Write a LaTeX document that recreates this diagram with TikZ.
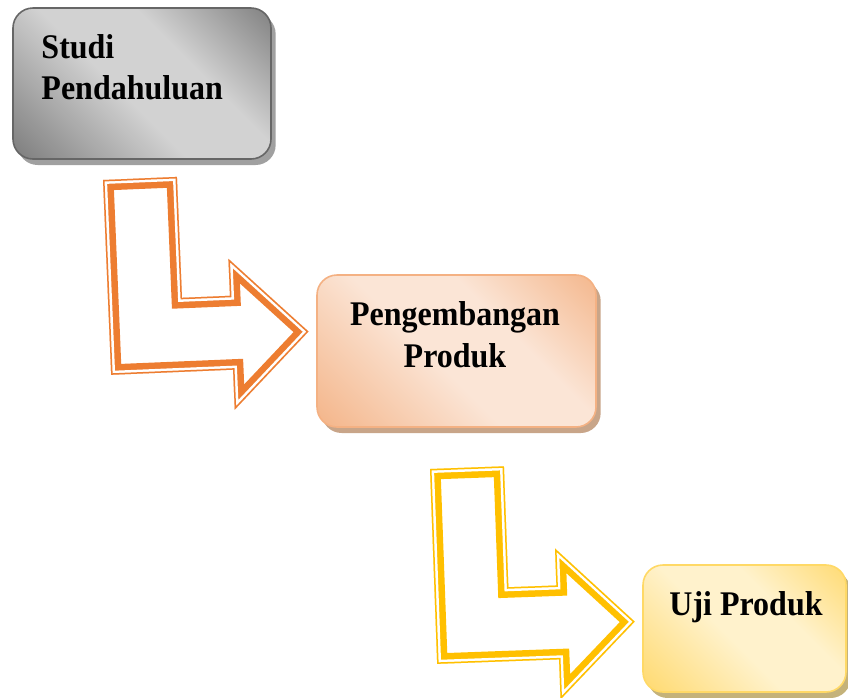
\documentclass[tikz,border=0pt]{standalone}
\usepackage{graphicx}
\usepackage{fontspec}
\setmainfont{Liberation Serif}
\usetikzlibrary{shadows}

\definecolor{grayDark}{HTML}{6A6A6A}
\definecolor{grayLight}{HTML}{D2D2D2}
\definecolor{grayLine}{HTML}{666666}
\definecolor{grayShadow}{HTML}{A0A0A0}
\definecolor{orangeDark}{HTML}{F2AA78}
\definecolor{orangeLight}{HTML}{FBE5D6}
\definecolor{orangeLine}{HTML}{F4B183}
\definecolor{orangeShadow}{HTML}{C8A589}
\definecolor{yellowDark}{HTML}{FFD45A}
\definecolor{yellowLight}{HTML}{FFF2CC}
\definecolor{yellowLine}{HTML}{FFD966}
\definecolor{yellowShadow}{HTML}{C4B27A}
\definecolor{arrowOrange}{HTML}{ED7D31}
\definecolor{arrowYellow}{HTML}{FFC000}

% diagonal shadings, dark corners and a broad light band
\pgfdeclareverticalshading{grayShade}{100bp}{color(0bp)=(grayDark); color(8bp)=(grayDark);
  color(45bp)=(grayLight); color(62bp)=(grayLight); color(92bp)=(grayDark); color(100bp)=(grayDark)}
\pgfdeclareverticalshading{orangeShade}{100bp}{color(0bp)=(orangeDark); color(8bp)=(orangeDark);
  color(45bp)=(orangeLight); color(62bp)=(orangeLight); color(92bp)=(orangeDark); color(100bp)=(orangeDark)}
\pgfdeclareverticalshading{yellowShade}{100bp}{color(0bp)=(yellowDark); color(8bp)=(yellowDark);
  color(45bp)=(yellowLight); color(62bp)=(yellowLight); color(92bp)=(yellowDark); color(100bp)=(yellowDark)}

% slightly taller lettering
\newcommand{\tall}[1]{\scalebox{1}[1.08]{#1}}

\tikzset{
  box/.style={rounded corners=15pt, inner sep=0pt, line width=1.2pt},
  stage/.style n args={3}{box, draw=#2, shade, shading=#1, shading angle=-45,
    drop shadow={shadow xshift=3.5pt, shadow yshift=-4.5pt, fill=#3, opacity=1}},
  lbl/.style={inner sep=0pt}
}

% bent arrow: colour, x, y, angle
\newcommand{\bentarrow}[4]{%
\begin{scope}[shift={(#2,#3)}, rotate=#4]
  \clip (0,0) -- (74,0) -- (74,-121) -- (122,-121) -- (122,-84) -- (199,-160)
    -- (122,-235) -- (122,-195) -- (0,-195) -- cycle;
  \foreach \w/\c in {15.75pt/#1, 6pt/white, 2.25pt/#1}
    \draw[line width=\w, color=\c] (0,0) -- (74,0) -- (74,-121) -- (122,-121)
      -- (122,-84) -- (199,-160) -- (122,-235) -- (122,-195) -- (0,-195) -- cycle;
\end{scope}}

\begin{document}
\begin{tikzpicture}[x=0.75pt, y=0.75pt]

\useasboundingbox (0,0) rectangle (848,-697);

% Box 1: Studi Pendahuluan
\node[stage={grayShade}{grayLine}{grayShadow},
  minimum width=193.5pt, minimum height=113.25pt] (studi) at (142,-83.5) {};
\node[lbl, anchor=north west, align=left, font=\bfseries\fontsize{24}{30.75}\selectfont]
  (studiText) at ([shift={(29,-26.6)}]studi.north west) {\tall{Studi}\\\tall{Pendahuluan}};

% Arrow from box 1 to box 2
\bentarrow{arrowOrange}{103}{-180}{2.4}

% Box 2: Pengembangan Produk
\node[stage={orangeShade}{orangeLine}{orangeShadow},
  minimum width=209.25pt, minimum height=114pt] (pengembangan) at (456.5,-351) {};
\node[lbl, anchor=north, align=center, font=\bfseries\fontsize{24}{31.5}\selectfont]
  (pengembanganText) at ([shift={(-1.5,-26.6)}]pengembangan.north) {\tall{Pengembangan}\\\tall{Produk}};

% Arrow from box 2 to box 3
\bentarrow{arrowYellow}{430}{-469}{2.1}

% Box 3: Uji Produk
\node[stage={yellowShade}{yellowLine}{yellowShadow},
  minimum width=152.25pt, minimum height=95.25pt] (uji) at (744.5,-628.5) {};
\node[lbl, anchor=north, font=\bfseries\fontsize{24}{31.5}\selectfont]
  (ujiText) at ([shift={(1.5,-26.6)}]uji.north) {\tall{Uji Produk}};

\end{tikzpicture}
\end{document}
